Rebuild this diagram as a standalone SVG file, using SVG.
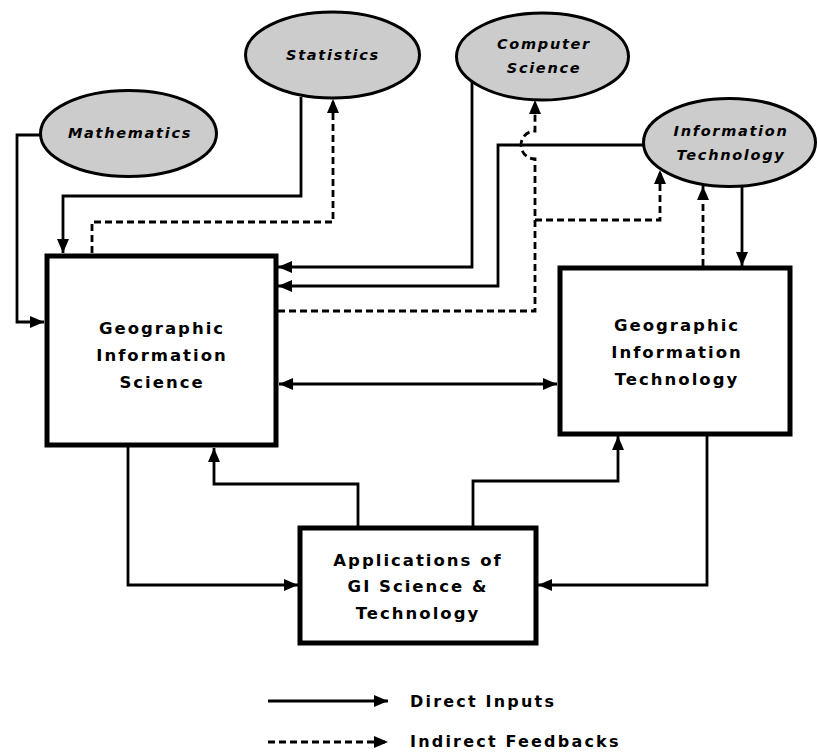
<svg xmlns="http://www.w3.org/2000/svg" width="817" height="752" viewBox="0 0 817 752">
<defs>
<marker id="ah" viewBox="0 0 14 12" refX="14" refY="6" markerWidth="14" markerHeight="12" markerUnits="userSpaceOnUse" orient="auto-start-reverse">
<path d="M0,0 L14,6 L0,12 Z" fill="#000"/>
</marker>
<style>
.ell{fill:#cccccc;stroke:#000;stroke-width:3}
.box{fill:#fff;stroke:#000;stroke-width:5}
.c{fill:none;stroke:#000;stroke-width:2.8}
.d{fill:none;stroke:#000;stroke-width:2.8;stroke-dasharray:7,4}
.el{font-family:"DejaVu Sans",Verdana,sans-serif;font-weight:bold;font-style:italic;font-size:14.5px;letter-spacing:1.7px;text-anchor:middle;fill:#000}
.bx{font-family:"DejaVu Sans",Verdana,sans-serif;font-weight:bold;font-size:16.5px;letter-spacing:2px;text-anchor:middle;fill:#000}
.lg{font-family:"DejaVu Sans",Verdana,sans-serif;font-weight:bold;font-size:16px;letter-spacing:2.2px;fill:#000}
</style>
</defs>
<rect width="817" height="752" fill="#fff"/>
<g id="connectors">
<path class="c" d="M40,135 H17 V322 H44" marker-end="url(#ah)"/>
<path class="c" d="M301,97 V196 H63 V253" marker-end="url(#ah)"/>
<path class="d" d="M92,253 V222 H333 V99" marker-end="url(#ah)"/>
<path class="c" d="M472,82 V267 H278" marker-end="url(#ah)"/>
<path class="c" d="M643,145 H498 V286 H278" marker-end="url(#ah)"/>
<path class="d" d="M278,311 H535 V159 A14,14 0 0,1 535,131 V100" marker-end="url(#ah)"/>
<path class="d" d="M535,220 H660 V170" marker-end="url(#ah)"/>
<path class="d" d="M703,266 V186" marker-end="url(#ah)"/>
<path class="c" d="M742,187 V266" marker-end="url(#ah)"/>
<path class="c" d="M279,384 H557" marker-start="url(#ah)" marker-end="url(#ah)"/>
<path class="c" d="M128,447 V585 H298" marker-end="url(#ah)"/>
<path class="c" d="M358,526 V484 H214 V448" marker-end="url(#ah)"/>
<path class="c" d="M473,526 V481 H618 V436" marker-end="url(#ah)"/>
<path class="c" d="M707,436 V585 H538" marker-end="url(#ah)"/>
</g>
<g id="mathematics">
<ellipse class="ell" cx="128.5" cy="133.5" rx="88" ry="43"/>
<text class="el" x="130" y="138">Mathematics</text>
</g>
<g id="statistics">
<ellipse class="ell" cx="332.5" cy="55" rx="87" ry="43"/>
<text class="el" x="333" y="60">Statistics</text>
</g>
<g id="computer-science">
<ellipse class="ell" cx="542.5" cy="56.5" rx="86" ry="43.5"/>
<text class="el" x="544" y="49">Computer</text>
<text class="el" x="544" y="73">Science</text>
</g>
<g id="information-technology">
<ellipse class="ell" cx="729.5" cy="142.5" rx="86" ry="44"/>
<text class="el" x="731" y="136">Information</text>
<text class="el" x="731" y="160">Technology</text>
</g>
<g id="gis">
<rect class="box" x="47" y="256" width="229" height="189"/>
<text class="bx" x="162" y="334">Geographic</text>
<text class="bx" x="162" y="361">Information</text>
<text class="bx" x="162" y="388">Science</text>
</g>
<g id="git">
<rect class="box" x="560" y="268" width="230" height="166"/>
<text class="bx" x="677" y="331">Geographic</text>
<text class="bx" x="677" y="358">Information</text>
<text class="bx" x="677" y="385">Technology</text>
</g>
<g id="applications">
<rect class="box" x="300" y="528" width="236" height="115"/>
<text class="bx" x="418" y="566">Applications of</text>
<text class="bx" x="418" y="592">GI Science &amp;</text>
<text class="bx" x="418" y="619">Technology</text>
</g>
<g id="legend">
<path class="c" d="M268,701 H388" marker-end="url(#ah)"/>
<text class="lg" x="410" y="707">Direct Inputs</text>
<path class="d" d="M268,742 H388" marker-end="url(#ah)"/>
<text class="lg" x="410" y="747">Indirect Feedbacks</text>
</g>
</svg>
